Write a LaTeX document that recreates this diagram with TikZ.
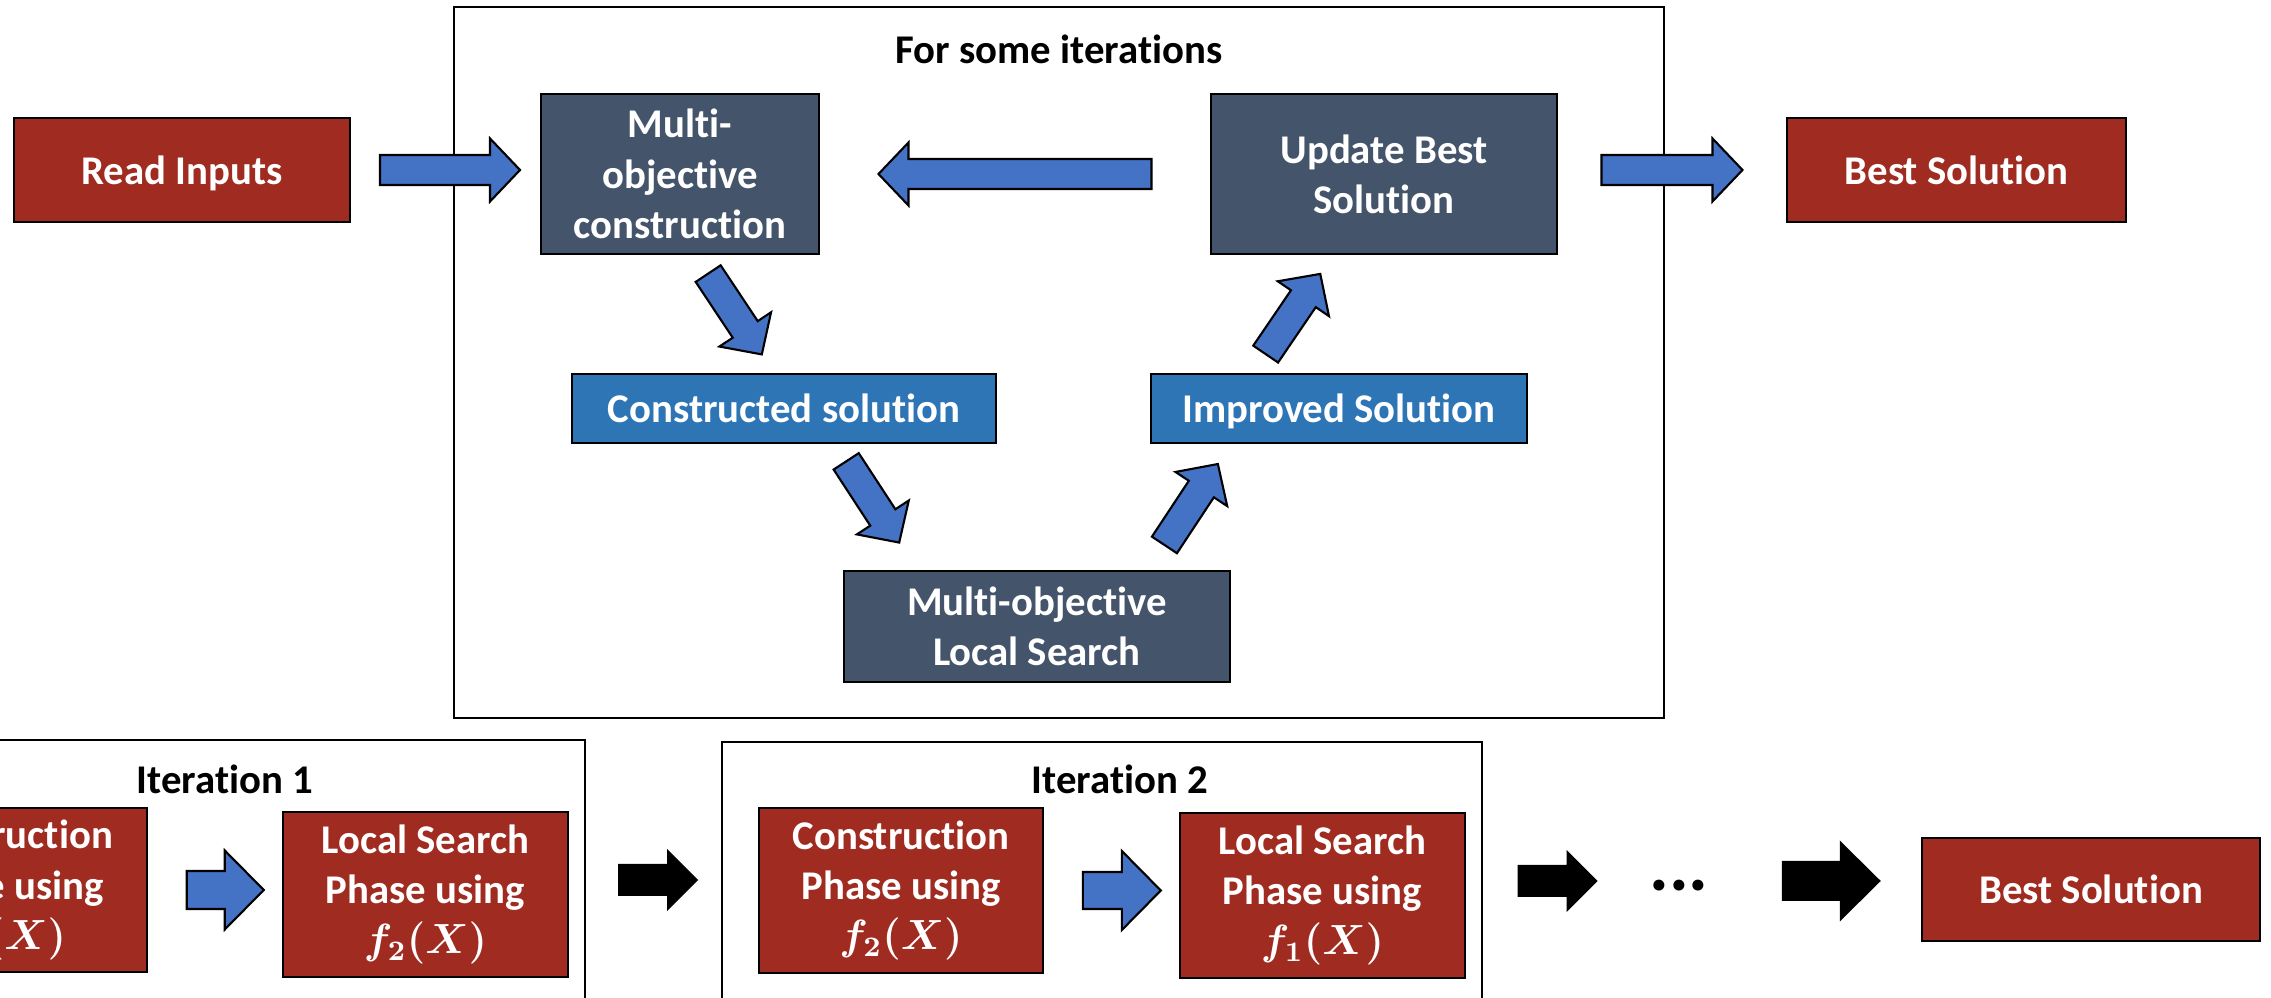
\documentclass[tikz,border=0pt]{standalone}
\usepackage{fontspec}
\setmainfont{Carlito}[Ligatures={NoCommon,NoContextual}]
\usetikzlibrary{calc}
\definecolor{boxred}{RGB}{160,43,33}
\definecolor{boxslate}{RGB}{68,84,106}
\definecolor{boxblue}{RGB}{46,117,182}
\definecolor{arrowblue}{RGB}{68,114,196}
\tikzset{
  box/.style={draw=black, line width=0.7pt, text=white, align=center, inner sep=0pt,
    font=\bfseries\boldmath\fontsize{11.6}{14.3}\selectfont},
  oneline/.style={text height=2.1ex, text depth=0.43ex},
  redbox/.style={box, fill=boxred},
  slatebox/.style={box, fill=boxslate},
  bluebox/.style={box, fill=boxblue},
  frame/.style={draw=black, line width=0.6pt},
  title/.style={inner sep=0pt, font=\bfseries\fontsize{11.6}{14.3}\selectfont},
  bluearrow/.style={fill=arrowblue, draw=black, line width=0.6pt, sloped, allow upside down},
  blackarrow/.style={fill=black, sloped, allow upside down},
  pics/blockarrow/.style args={#1/#2/#3/#4}{code={
    \path[pic actions] ({-#1/2},{-#2/2}) -- ({#1/2-#4},{-#2/2}) -- ({#1/2-#4},{-#3/2})
      -- ({#1/2},0) -- ({#1/2-#4},{#3/2}) -- ({#1/2-#4},{#2/2}) -- ({-#1/2},{#2/2}) -- cycle;
  }},
}
\begin{document}
\begin{tikzpicture}[x=0.01cm, y=-0.01cm]
    \useasboundingbox (0,0) rectangle (2271,998);
    \clip (0,0) rectangle (2271,998);
    % upper loop
    \draw[frame] (454,7) rectangle (1664,718);
    \node[title] (loop) at (1059,49) {For some iterations};
    \node[redbox, oneline, minimum width=3.36cm, minimum height=1.04cm] (read) at (182,170) {Read Inputs};
    \node[slatebox, minimum width=2.78cm, minimum height=1.60cm] (multi) at (680,174) {Multi-\\objective\\construction};
    \node[slatebox, minimum width=3.46cm, minimum height=1.60cm] (update) at (1384,174) {Update Best\\Solution};
    \node[redbox, oneline, minimum width=3.39cm, minimum height=1.04cm] (best) at (1956.5,170) {Best Solution};
    \node[bluebox, oneline, minimum width=4.24cm, minimum height=0.69cm] (constructed) at (784,408.5) {Constructed solution};
    \node[bluebox, oneline, minimum width=3.76cm, minimum height=0.69cm] (improved) at (1339,408.5) {Improved Solution};
    \node[slatebox, minimum width=3.86cm, minimum height=1.11cm] (mols) at (1037,626.5) {Multi-objective\\Local Search};
    %\\
    \path (read.east) -- pic[bluearrow, pos=0.524]{blockarrow=140/30/63/30} (read.east -| multi.west);
    \path (update.west) -- pic[bluearrow, pos=0.5]{blockarrow=273/30/63/30} (update.west -| multi.east);
    \path (best.west -| update.east) -- pic[bluearrow, pos=0.5]{blockarrow=141/30/63/30} (best.west);
    \path ([xshift=0.16cm]multi.south) -- pic[bluearrow, pos=0.5]{blockarrow=97/30/62/30} ([xshift=-0.10cm]constructed.north);
    \path ([xshift=0.51cm]constructed.south) -- pic[bluearrow, pos=0.46]{blockarrow=97/30/62/30} ([xshift=-1.20cm]mols.north);
    \path ([xshift=1.11cm]mols.north) -- pic[bluearrow, pos=0.52]{blockarrow=97/30/62/30} ([xshift=-1.08cm]improved.south);
    \path ([xshift=-0.86cm]improved.north) -- pic[bluearrow, pos=0.5]{blockarrow=97/30/62/30} ([xshift=-0.51cm]update.south);
    %\\
    % iterations
    \draw[frame] (-175,740) rectangle (585,1030);
    \draw[frame] (722,742) rectangle (1482,1030);
    \node[title] (it1) at (225,779) {Iteration 1};
    \node[title] (it2) at (1120,779) {Iteration 2};
    \node[redbox, minimum width=2.85cm, minimum height=1.64cm] (con1) at (4.5,890) {Construction\\Phase using\\$f_1(X)$};
    \node[redbox, minimum width=2.85cm, minimum height=1.65cm] (ls1) at (425.5,894.5) {Local Search\\Phase using\\$f_2(X)$};
    \node[redbox, minimum width=2.84cm, minimum height=1.65cm] (con2) at (901,890.5) {Construction\\Phase using\\$f_2(X)$};
    \node[redbox, minimum width=2.85cm, minimum height=1.65cm] (ls2) at (1322.5,895.5) {Local Search\\Phase using\\$f_1(X)$};
    \node[inner sep=0pt, font=\bfseries\fontsize{21}{25}\selectfont] (dots) at (1679,886) {...};
    \node[redbox, oneline, minimum width=3.38cm, minimum height=1.03cm] (best2) at (2091,889.5) {Best Solution};
    %\\
    \path (con1.east) -- pic[bluearrow, pos=0.577]{blockarrow=77/38/79/39} (con1.east -| ls1.west);
    \path (con2.east) -- pic[bluearrow, pos=0.577]{blockarrow=78/37/79/39} (con2.east -| ls2.west);
    \path (ls1.east |- 0,880) -- pic[blackarrow, pos=0.471]{blockarrow=80/32/62/31} (con2.west |- 0,880);
    \path (ls2.east |- 0,881) -- pic[blackarrow, pos=0.5]{blockarrow=80/32/62/31} (dots.west |- 0,881);
    \path (dots.east |- 0,881) -- pic[blackarrow, pos=0.577]{blockarrow=99/40/81/41} (best2.west |- 0,881);
\end{tikzpicture}
\end{document}
